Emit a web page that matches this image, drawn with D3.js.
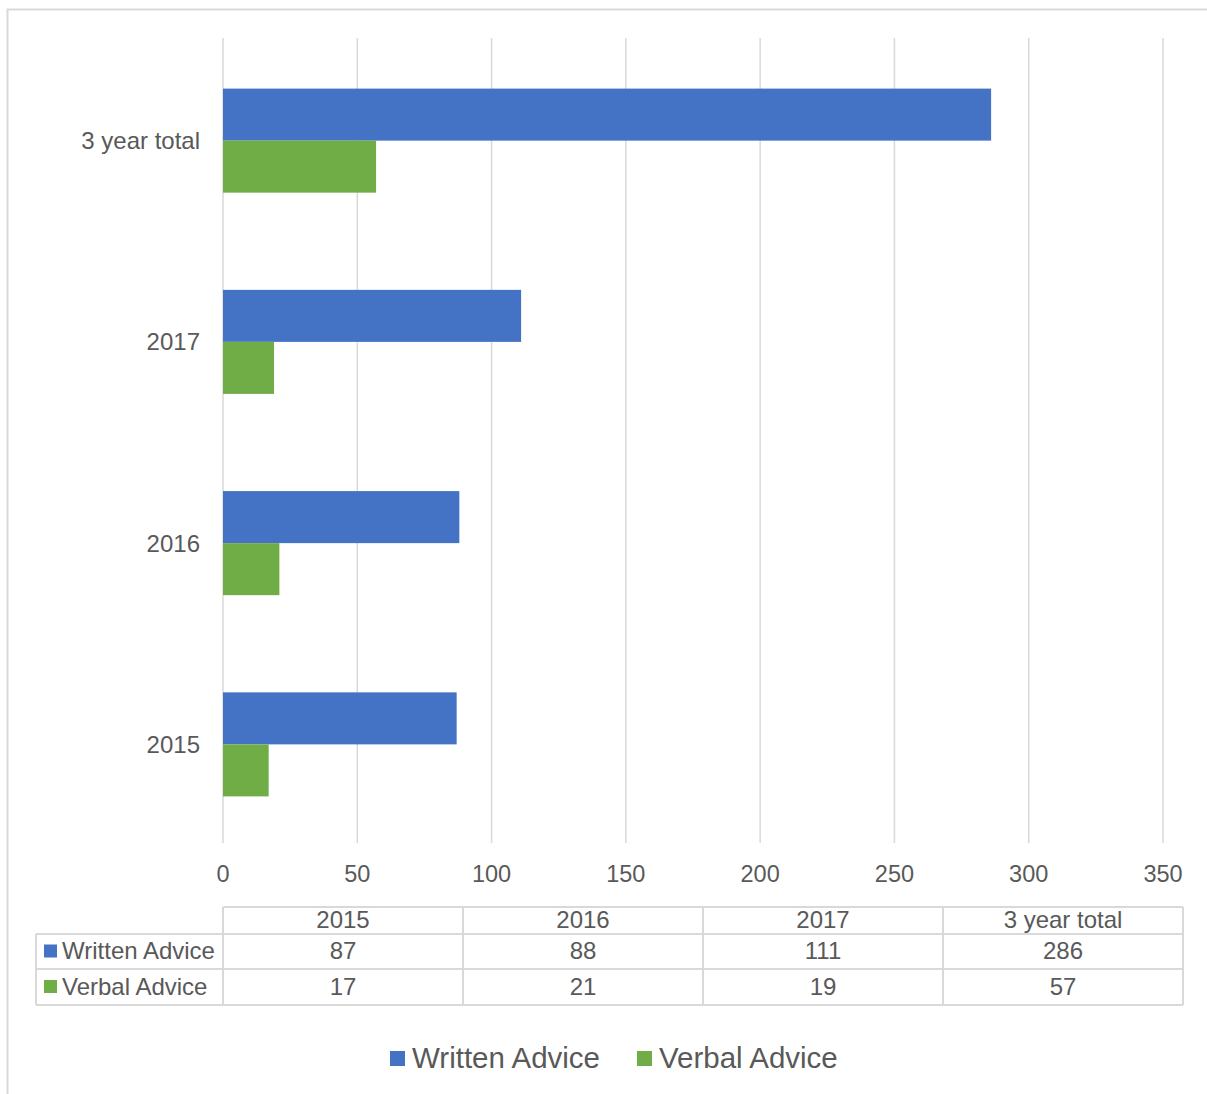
<!DOCTYPE html>
<html lang="en">
<head>
<meta charset="utf-8">
<title>Written vs Verbal Advice</title>
<script src="https://d3js.org/d3.v7.min.js"></script>
<style>
  body { margin: 0; background: #fff; }
  svg text { font-family: "Liberation Sans", Arial, sans-serif; fill: #595959; }
</style>
</head>
<body>
<script>
// data
var categories = ["2015", "2016", "2017", "3 year total"];
var seriesNames = ["Written Advice", "Verbal Advice"];
var writtenAdvice = [87, 88, 111, 286];
var verbalAdvice = [17, 21, 19, 57];
var xTicks = [0, 50, 100, 150, 200, 250, 300, 350];
var colors = ["#4472c4", "#70ad47"];

var width = 1207, height = 1094;

var svg = d3.select("body").append("svg")
  .attr("width", width)
  .attr("height", height);

// outer chart frame
svg.append("rect")
  .attr("x", 7.5).attr("y", 9.5)
  .attr("width", 1210).attr("height", 1100)
  .attr("fill", "none")
  .attr("stroke", "#d9d9d9")
  .attr("stroke-width", 2);

var x = d3.scaleLinear().domain([0, 350]).range([223, 1163]);

// categories bottom to top
var y = d3.scaleBand()
  .domain(categories.slice().reverse())
  .range([40, 845])
  .paddingInner(0.483)
  .paddingOuter(0.2415);

var ySub = d3.scaleBand().domain(seriesNames).range([0, y.bandwidth()]);

// gridlines
svg.append("g")
  .selectAll("line")
  .data(xTicks)
  .enter().append("line")
  .attr("x1", function(d) { return x(d); })
  .attr("x2", function(d) { return x(d); })
  .attr("y1", 38).attr("y2", 843)
  .attr("stroke", "#d9d9d9")
  .attr("stroke-width", 1.5);

// tick labels
svg.append("g")
  .selectAll("text")
  .data(xTicks)
  .enter().append("text")
  .attr("x", function(d) { return x(d); })
  .attr("y", 882)
  .attr("text-anchor", "middle")
  .attr("font-size", 23.5)
  .text(function(d) { return d; });

// bars
var rows = categories.map(function(c, i) {
  return { cat: c, values: [writtenAdvice[i], verbalAdvice[i]] };
});

var groups = svg.append("g")
  .selectAll("g")
  .data(rows)
  .enter().append("g")
  .attr("transform", function(d) { return "translate(0," + y(d.cat) + ")"; });

groups.selectAll("rect")
  .data(function(d) { return d.values.map(function(v, j) { return { s: seriesNames[j], v: v, j: j }; }); })
  .enter().append("rect")
  .attr("x", x(0))
  .attr("y", function(d) { return ySub(d.s); })
  .attr("width", function(d) { return x(d.v) - x(0); })
  .attr("height", ySub.bandwidth())
  .attr("fill", function(d) { return colors[d.j]; });

// category labels
svg.append("g")
  .selectAll("text")
  .data(categories)
  .enter().append("text")
  .attr("x", 200)
  .attr("y", function(d) { return y(d) + y.bandwidth() / 2; })
  .attr("dy", "0.35em")
  .attr("text-anchor", "end")
  .attr("font-size", 24)
  .text(function(d) { return d; });

// data table
var colX = d3.scaleBand().domain(categories).range([223, 1183]);
var tableLines = svg.append("g")
  .attr("stroke", "#d9d9d9")
  .attr("stroke-width", 2)
  .attr("fill", "none");

var rowY = [907, 934, 969, 1005];
// horizontal lines
tableLines.append("line").attr("x1", 223).attr("x2", 1183).attr("y1", rowY[0]).attr("y2", rowY[0]);
[1, 2, 3].forEach(function(i) {
  tableLines.append("line").attr("x1", 36).attr("x2", 1183).attr("y1", rowY[i]).attr("y2", rowY[i]);
});
// vertical lines
tableLines.append("line").attr("x1", 36).attr("x2", 36).attr("y1", rowY[1]).attr("y2", rowY[3]);
categories.forEach(function(c) {
  tableLines.append("line").attr("x1", colX(c)).attr("x2", colX(c)).attr("y1", rowY[0]).attr("y2", rowY[3]);
});
tableLines.append("line").attr("x1", 1183).attr("x2", 1183).attr("y1", rowY[0]).attr("y2", rowY[3]);

var tbl = svg.append("g").attr("font-size", 24);
tbl.selectAll("text.head")
  .data(categories)
  .enter().append("text")
  .attr("class", "head")
  .attr("x", function(d) { return colX(d) + colX.bandwidth() / 2; })
  .attr("y", 920)
  .attr("dy", "0.35em")
  .attr("text-anchor", "middle")
  .text(function(d) { return d; });

var seriesVals = [writtenAdvice, verbalAdvice];
seriesNames.forEach(function(name, j) {
  var cy = (rowY[j + 1] + rowY[j + 2]) / 2;
  svg.append("rect")
    .attr("x", 44).attr("y", cy - 7)
    .attr("width", 13).attr("height", 13)
    .attr("fill", colors[j]);
  tbl.append("text")
    .attr("x", 62).attr("y", cy - 0.5)
    .attr("dy", "0.35em")
    .text(name);
  tbl.selectAll(null)
    .data(seriesVals[j])
    .enter().append("text")
    .attr("x", function(d, i) { return colX(categories[i]) + colX.bandwidth() / 2; })
    .attr("y", cy - 0.5)
    .attr("dy", "0.35em")
    .attr("text-anchor", "middle")
    .text(function(d) { return d; });
});

// legend
var legendX = [390, 637];
var legend = svg.append("g");
seriesNames.forEach(function(name, j) {
  legend.append("rect")
    .attr("x", legendX[j]).attr("y", 1051)
    .attr("width", 15).attr("height", 15)
    .attr("fill", colors[j]);
  legend.append("text")
    .attr("x", legendX[j] + 22).attr("y", 1058)
    .attr("dy", "0.35em")
    .attr("font-size", 29.5)
    .text(name);
});
</script>
</body>
</html>
